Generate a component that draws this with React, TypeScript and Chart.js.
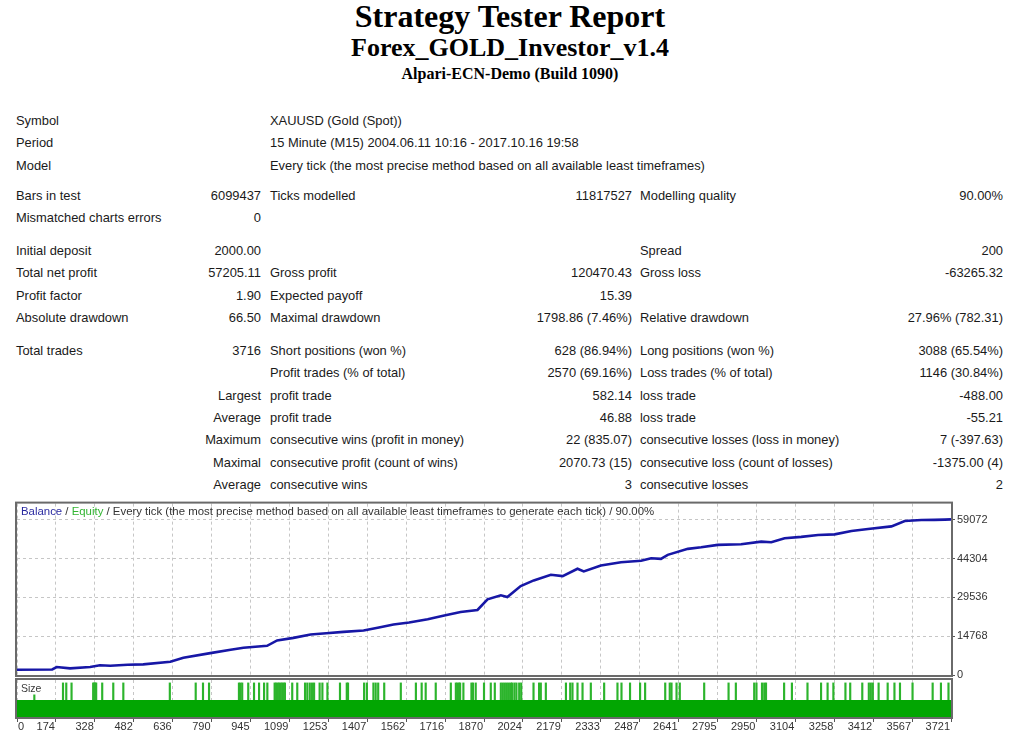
import React, { useEffect, useRef } from 'react';
import { Chart, registerables } from 'chart.js';

Chart.register(...registerables);

// ---------- data ----------
const TOTAL_TRADES = 3716;

const xTickLabels = ['0', '174', '328', '482', '636', '790', '945', '1099', '1253', '1407', '1562', '1716', '1870', '2024', '2179', '2333', '2487', '2641', '2795', '2950', '3104', '3258', '3412', '3567', '3721'];

const yTickValues = [0, 14768, 29536, 44304, 59072];
const yMax = 65200;

const balanceTrade = [0, 140, 158, 211, 291, 330, 371, 440, 502, 610, 662, 769, 850, 901, 995, 1035, 1100, 1168, 1230, 1299, 1379, 1440, 1498, 1560, 1634, 1700, 1765, 1832, 1872, 1925, 1951, 2004, 2056, 2124, 2171, 2230, 2255, 2323, 2403, 2483, 2523, 2562, 2589, 2669, 2722, 2788, 2881, 2961, 3001, 3054, 3120, 3187, 3253, 3320, 3386, 3479, 3532, 3598, 3650, 3691, 3716];
const balanceValue = [2000, 2100, 3030, 2540, 3030, 3700, 3520, 3900, 4050, 5040, 6550, 8330, 9600, 10340, 11100, 13140, 14130, 15410, 15900, 16400, 16930, 18100, 19200, 20000, 21200, 22600, 23970, 24730, 28780, 30300, 29650, 33820, 35980, 38140, 37600, 40410, 39390, 41660, 42910, 43440, 44420, 44190, 45710, 47980, 48590, 49500, 49720, 50750, 50480, 52000, 52530, 53280, 53510, 54800, 55560, 56540, 58590, 58950, 59000, 59100, 59205];

const baseLot = 0.1;
const bigLot = 0.2;
const midLot = 0.13;
const sizeMax = 0.217;
const midLotTrades = [66];
const bigLotTrades = [186, 199, 220, 306, 310, 314, 318, 342, 386, 426, 611, 714, 743, 767, 886, 892, 899, 923, 946, 966, 986, 999, 1028, 1034, 1040, 1046, 1052, 1058, 1064, 1069, 1098, 1118, 1149, 1158, 1168, 1177, 1185, 1207, 1218, 1238, 1288, 1315, 1320, 1384, 1395, 1421, 1430, 1440, 1464, 1530, 1590, 1613, 1629, 1669, 1729, 1749, 1755, 1761, 1766, 1779, 1811, 1817, 1828, 1861, 1888, 1904, 1928, 1936, 1944, 1952, 1960, 1968, 1973, 1982, 1990, 2001, 2009, 2058, 2080, 2087, 2107, 2187, 2204, 2213, 2233, 2253, 2286, 2339, 2392, 2408, 2442, 2482, 2502, 2582, 2600, 2607, 2627, 2640, 2737, 2834, 2863, 2936, 2945, 2967, 2976, 2983, 3055, 3086, 3148, 3202, 3228, 3251, 3299, 3318, 3366, 3392, 3400, 3408, 3431, 3467, 3494, 3516, 3566, 3646, 3679, 3709];

// ---------- report table ----------
const titleText = 'Strategy Tester Report';
const expertText = 'Forex_GOLD_Investor_v1.4';
const serverText = 'Alpari-ECN-Demo (Build 1090)';

const groupInfo = [
  ['Symbol', 'XAUUSD (Gold (Spot))'],
  ['Period', '15 Minute (M15) 2004.06.11 10:16 - 2017.10.16 19:58'],
  ['Model', 'Every tick (the most precise method based on all available least timeframes)'],
];
const groupBars = [
  ['Bars in test', '6099437', 'Ticks modelled', '11817527', 'Modelling quality', '90.00%'],
  ['Mismatched charts errors', '0', '', '', '', ''],
];
const groupMoney = [
  ['Initial deposit', '2000.00', '', '', 'Spread', '200'],
  ['Total net profit', '57205.11', 'Gross profit', '120470.43', 'Gross loss', '-63265.32'],
  ['Profit factor', '1.90', 'Expected payoff', '15.39', '', ''],
  ['Absolute drawdown', '66.50', 'Maximal drawdown', '1798.86 (7.46%)', 'Relative drawdown', '27.96% (782.31)'],
];
const groupTrades = [
  ['Total trades', '3716', 'Short positions (won %)', '628 (86.94%)', 'Long positions (won %)', '3088 (65.54%)'],
  ['', '', 'Profit trades (% of total)', '2570 (69.16%)', 'Loss trades (% of total)', '1146 (30.84%)'],
  ['', 'Largest', 'profit trade', '582.14', 'loss trade', '-488.00'],
  ['', 'Average', 'profit trade', '46.88', 'loss trade', '-55.21'],
  ['', 'Maximum', 'consecutive wins (profit in money)', '22 (835.07)', 'consecutive losses (loss in money)', '7 (-397.63)'],
  ['', 'Maximal', 'consecutive profit (count of wins)', '2070.73 (15)', 'consecutive loss (count of losses)', '-1375.00 (4)'],
  ['', 'Average', 'consecutive wins', '3', 'consecutive losses', '2'],
];

const SANS = '"Liberation Sans", Arial, sans-serif';
const SERIF = '"Liberation Serif", "Times New Roman", serif';
const TXT = '#1a1a1a';
const ROW_H = 22.4;
const TABLE_FONT = 12.9;

const framePlugin = {
  id: 'frame',
  afterDraw(chart: any) {
    const { ctx, chartArea: a } = chart;
    ctx.save();
    ctx.strokeStyle = '#6a6a6a';
    ctx.lineWidth = 2;
    ctx.strokeRect(a.left - 1, a.top - 1, a.right - a.left + 2, a.bottom - a.top + 2);
    ctx.restore();
  },
};

const xLabelPlugin = {
  id: 'xlabels',
  afterDraw(chart: any) {
    const s = chart.scales.x;
    const ctx = chart.ctx;
    ctx.save();
    ctx.font = '11px "Liberation Sans"';
    ctx.fillStyle = '#333';
    ctx.textBaseline = 'middle';
    s.ticks.forEach((t: any, i: number) => {
      const px = s.getPixelForValue(t.value);
      if (i === 0) {
        ctx.textAlign = 'left';
        ctx.fillText(xTickLabels[i], px + 1, 51);
      } else {
        ctx.textAlign = 'right';
        ctx.fillText(xTickLabels[i], px - 1, 51);
      }
    });
    ctx.restore();
  },
};

const xTicksBuilder = (s: any) => {
  const n = xTickLabels.length - 1;
  s.ticks = xTickLabels.map((_, i) => ({ value: (i * TOTAL_TRADES) / n }));
};

function TextAt({ left, right, top, size, children, style }: any) {
  return (
    <div
      style={{
        position: 'absolute',
        left,
        right,
        top,
        fontFamily: SANS,
        fontSize: size,
        lineHeight: '14px',
        color: TXT,
        whiteSpace: 'nowrap',
        ...style,
      }}
    >
      {children}
    </div>
  );
}

function Row({ cells, y, span }: any) {
  const top = y - 6.3;
  if (span) {
    return (
      <>
        <TextAt left={16} top={top} size={TABLE_FONT}>{cells[0]}</TextAt>
        <TextAt left={270} top={top} size={TABLE_FONT}>{cells[1]}</TextAt>
      </>
    );
  }
  return (
    <>
      {cells[0] && <TextAt left={16} top={top} size={TABLE_FONT}>{cells[0]}</TextAt>}
      {cells[1] && <TextAt right={1024 - 261} top={top} size={TABLE_FONT} style={{ textAlign: 'right' }}>{cells[1]}</TextAt>}
      {cells[2] && <TextAt left={270} top={top} size={TABLE_FONT}>{cells[2]}</TextAt>}
      {cells[3] && <TextAt right={1024 - 632} top={top} size={TABLE_FONT} style={{ textAlign: 'right' }}>{cells[3]}</TextAt>}
      {cells[4] && <TextAt left={640} top={top} size={TABLE_FONT}>{cells[4]}</TextAt>}
      {cells[5] && <TextAt right={1024 - 1003} top={top} size={TABLE_FONT} style={{ textAlign: 'right' }}>{cells[5]}</TextAt>}
    </>
  );
}

export default function App() {
  const balRef = useRef<HTMLCanvasElement>(null);
  const sizeRef = useRef<HTMLCanvasElement>(null);

  useEffect(() => {
    const balChart = new Chart(balRef.current!, {
      type: 'line',
      data: {
        datasets: [
          {
            label: 'Balance',
            data: balanceTrade.map((x, i) => ({ x, y: balanceValue[i] })),
            borderColor: '#1717a6',
            borderWidth: 2.6,
            pointRadius: 0,
            tension: 0,
            fill: false,
          },
        ],
      },
      options: {
        responsive: false,
        animation: false,
        events: [],
        layout: { padding: { left: 17, right: 0, top: 8, bottom: 12 } },
        plugins: { legend: { display: false }, tooltip: { enabled: false } },
        scales: {
          x: {
            type: 'linear',
            min: 0,
            max: TOTAL_TRADES,
            afterBuildTicks: xTicksBuilder,
            ticks: { display: false },
            grid: { color: '#c6c6c6', drawTicks: false, lineWidth: 1 },
            border: { display: false, dash: [3, 3] },
            afterFit: (s: any) => { s.height = 0; },
          },
          y: {
            position: 'right',
            min: 0,
            max: yMax,
            afterBuildTicks: (s: any) => { s.ticks = yTickValues.map((v) => ({ value: v })); },
            ticks: {
              color: '#333',
              font: { family: 'Liberation Sans', size: 11 },
              padding: 2,
              callback: (v: any) => String(v),
            },
            grid: { color: '#c6c6c6', tickLength: 4, tickColor: '#555', tickBorderDash: [] } as any,
            border: { display: false, dash: [3, 3] },
            afterFit: (s: any) => { s.width = 73; },
          },
        },
      },
      plugins: [framePlugin],
    } as any);

    const sizeChart = new Chart(sizeRef.current!, {
      type: 'bar',
      data: {
        datasets: [
          {
            type: 'line',
            label: 'base',
            data: [{ x: 0, y: baseLot }, { x: TOTAL_TRADES, y: baseLot }],
            borderWidth: 0,
            borderColor: 'rgba(0,0,0,0)',
            pointRadius: 0,
            fill: 'origin',
            backgroundColor: '#02a602',
            order: 0,
          },
          {
            type: 'bar',
            label: 'big',
            data: bigLotTrades.map((x) => ({ x, y: bigLot })),
            backgroundColor: '#2cb42c',
            barThickness: 1.5,
            order: 1,
          },
          {
            type: 'bar',
            label: 'mid',
            data: midLotTrades.map((x) => ({ x, y: midLot })),
            backgroundColor: '#2cb42c',
            barThickness: 1.5,
            order: 1,
          },
        ],
      },
      options: {
        responsive: false,
        animation: false,
        events: [],
        layout: { padding: { left: 17, right: 73, top: 4, bottom: 0 } },
        plugins: { legend: { display: false }, tooltip: { enabled: false } },
        scales: {
          x: {
            type: 'linear',
            min: 0,
            max: TOTAL_TRADES,
            offset: false,
            afterBuildTicks: xTicksBuilder,
            ticks: { display: false },
            grid: { color: '#c6c6c6', tickLength: 5, tickColor: '#555', tickBorderDash: [], offset: false } as any,
            border: { display: false, dash: [3, 3] },
            afterFit: (s: any) => { s.height = 21; },
          },
          y: { display: false, min: 0, max: sizeMax },
        },
      },
      plugins: [framePlugin, xLabelPlugin],
    } as any);

    return () => {
      balChart.destroy();
      sizeChart.destroy();
    };
  }, []);

  const rows: any[] = [];
  const groups = [
    { start: 120, rows: groupInfo, span: true },
    { start: 195, rows: groupBars, span: false },
    { start: 250, rows: groupMoney, span: false },
    { start: 350, rows: groupTrades, span: false },
  ];
  groups.forEach((g, gi) => {
    g.rows.forEach((r, ri) => {
      rows.push(<Row key={gi + '-' + ri} cells={r} y={g.start + ri * ROW_H} span={g.span} />);
    });
  });

  return (
    <div style={{ position: 'absolute', left: 0, top: 0, width: 1024, height: 738, background: '#fff', overflow: 'hidden' }}>
      <div style={{ position: 'absolute', left: 0, width: 1020, top: 0, textAlign: 'center', fontFamily: SERIF, fontWeight: 'bold', fontSize: 32, lineHeight: '32px', color: '#000' }}>{titleText}</div>
      <div style={{ position: 'absolute', left: 0, width: 1020, top: 34.5, textAlign: 'center', fontFamily: SERIF, fontWeight: 'bold', fontSize: 26, lineHeight: '26px', color: '#000' }}>{expertText}</div>
      <div style={{ position: 'absolute', left: 0, width: 1020, top: 65.5, textAlign: 'center', fontFamily: SERIF, fontWeight: 'bold', fontSize: 16, lineHeight: '16px', color: '#000' }}>{serverText}</div>

      {rows}

      <canvas ref={balRef} width={1024} height={192} style={{ position: 'absolute', left: 0, top: 495 }} />
      <canvas ref={sizeRef} width={1024} height={62} style={{ position: 'absolute', left: 0, top: 676 }} />

      <div style={{ position: 'absolute', left: 21, top: 504, fontFamily: SANS, fontSize: 11.4, lineHeight: '14px', color: '#333', whiteSpace: 'nowrap' }}>
        <span style={{ color: '#2a2aa0' }}>Balance</span>
        <span> / </span>
        <span style={{ color: '#33b533' }}>Equity</span>
        <span> / Every tick (the most precise method based on all available least timeframes to generate each tick) / 90.00%</span>
      </div>
      <div style={{ position: 'absolute', left: 21, top: 681, fontFamily: SANS, fontSize: 10.5, lineHeight: '14px', color: '#3a3a3a' }}>Size</div>
    </div>
  );
}
